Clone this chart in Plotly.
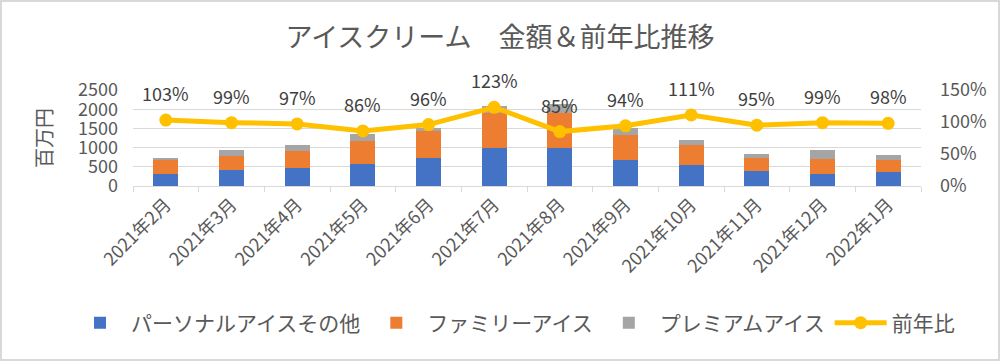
import plotly.graph_objects as go

categories = ["2021年2月", "2021年3月", "2021年4月", "2021年5月", "2021年6月", "2021年7月",
              "2021年8月", "2021年9月", "2021年10月", "2021年11月", "2021年12月", "2022年1月"]
personal = [324, 410, 481, 585, 724, 977, 977, 671, 549, 392, 324, 358]
family = [347, 374, 418, 591, 705, 915, 915, 646, 507, 340, 374, 313]
premium = [71, 141, 157, 167, 76, 191, 238, 183, 138, 96, 227, 131]
yoy = [1.03, 0.99, 0.97, 0.86, 0.96, 1.23, 0.85, 0.94, 1.11, 0.95, 0.99, 0.98]
yoy_labels = ["103%", "99%", "97%", "86%", "96%", "123%", "85%", "94%", "111%", "95%", "99%", "98%"]

FONT = "Noto Sans CJK JP"
GRAY_TXT = "#595959"

W, H = 1000, 361
L, R, T, B = 133, 79, 90, 175
pw, ph = W - L - R, H - T - B

fig = go.Figure()
fig.add_trace(go.Bar(x=categories, y=personal, name="パーソナルアイスその他",
                     marker=dict(color="#4472C4", line=dict(width=0))))
fig.add_trace(go.Bar(x=categories, y=family, name="ファミリーアイス",
                     marker=dict(color="#ED7D31", line=dict(width=0))))
fig.add_trace(go.Bar(x=categories, y=premium, name="プレミアムアイス",
                     marker=dict(color="#A5A5A5", line=dict(width=0))))
fig.add_trace(go.Scatter(x=categories, y=yoy, name="前年比", yaxis="y2",
                         mode="lines+markers",
                         line=dict(color="#FFC000", width=5),
                         marker=dict(color="#FFC000", size=13)))

for c, v, t in zip(categories, yoy, yoy_labels):
    fig.add_annotation(x=c, y=v, yref="y2", text=t, showarrow=False, yshift=27,
                       font=dict(family=FONT, size=18, color="#404040"))

fig.add_shape(type="rect", xref="paper", yref="paper",
              x0=-(L - 1) / pw, x1=1 + (R - 1) / pw,
              y0=-(B - 1) / ph, y1=1 + (T - 1) / ph,
              line=dict(color="#D9D9D9", width=2), fillcolor="rgba(0,0,0,0)", layer="below")

fig.update_layout(
    template="none",
    width=W, height=H,
    margin=dict(l=L, r=R, t=T, b=B, autoexpand=False),
    paper_bgcolor="white", plot_bgcolor="white",
    barmode="stack", bargap=0.62,
    font=dict(family=FONT, color=GRAY_TXT, size=18),
    title=dict(text="アイスクリーム　金額＆前年比推移", x=0.5, xanchor="center",
               y=1 - 38 / H, yanchor="middle", yref="container",
               font=dict(family=FONT, size=27, color=GRAY_TXT)),
    xaxis=dict(type="category", range=[-0.5, len(categories) - 0.5], autorange=False,
               showgrid=False, showline=True, linecolor="#D9D9D9", linewidth=1,
               ticks="outside", tickson="boundaries", ticklen=5, tickcolor="#D9D9D9",
               tickangle=-45, tickfont=dict(family=FONT, size=18, color=GRAY_TXT),
               automargin=False),
    yaxis=dict(range=[0, 2500], dtick=500, showgrid=True, gridcolor="#D9D9D9", gridwidth=1,
               zeroline=False, showline=False, ticks="",
               tickfont=dict(family=FONT, size=18, color=GRAY_TXT),
               ticklabelstandoff=14,
               title=dict(text="百万円", font=dict(family=FONT, size=20, color=GRAY_TXT), standoff=20),
               automargin=False),
    yaxis2=dict(range=[0, 1.5], dtick=0.5, tickformat=".0%", overlaying="y", side="right",
                showgrid=False, zeroline=False, showline=False, ticks="",
                tickfont=dict(family=FONT, size=18, color=GRAY_TXT),
                ticklabelstandoff=18, automargin=False),
    legend=dict(orientation="h", xref="paper", x=(69 - L) / pw, xanchor="left",
                yref="paper", y=-(323 - (H - B)) / ph, yanchor="middle", traceorder="normal",
                font=dict(family=FONT, size=21, color=GRAY_TXT), itemwidth=52,
                bgcolor="rgba(0,0,0,0)"),
    showlegend=True,
)

fig.write_html("out.html", config={"displayModeBar": False},
               post_script="document.body.style.margin='0';document.body.style.overflow='hidden';")
